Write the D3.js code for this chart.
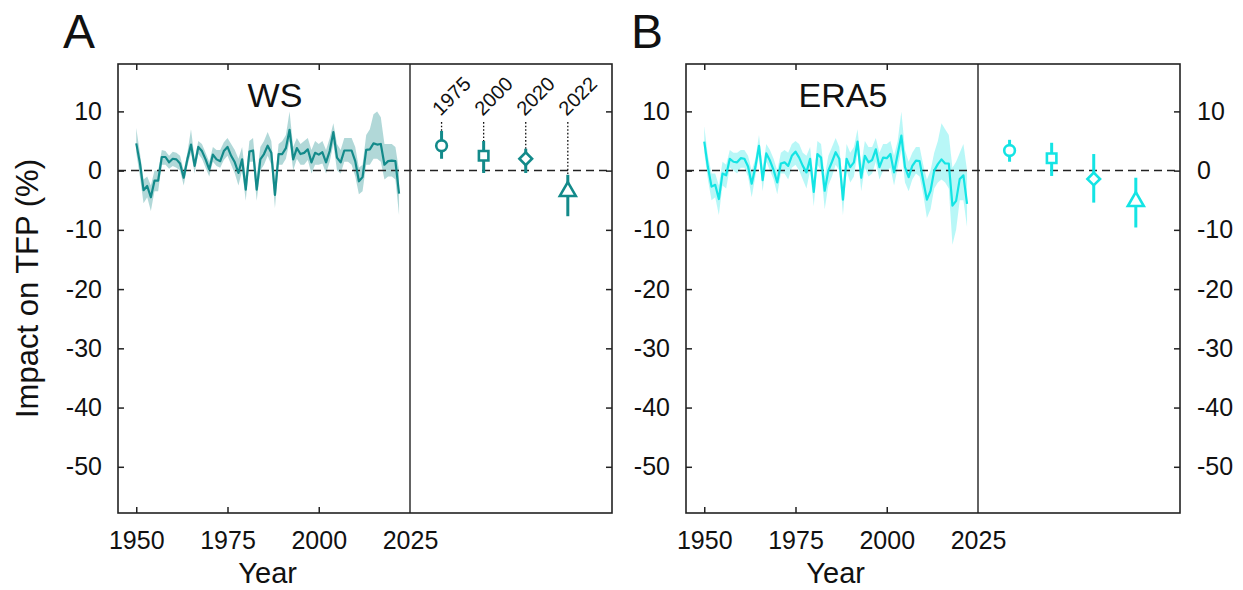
<!DOCTYPE html>
<html>
<head>
<meta charset="utf-8">
<script src="https://cdn.jsdelivr.net/npm/d3@7"></script>
<style>
  body { margin: 0; background: #fff; }
  svg { font-family: "Liberation Sans", Arial, sans-serif; }
</style>
</head>
<body>
<svg id="chart" width="1243" height="590"></svg>
<script>
// years of the annual series
const years = d3.range(1950, 2023);

// WS reanalysis: annual impact on TFP (%) with uncertainty band
const wsMean = [4.6, 1.3, -3.3, -2.6, -4.5, -1.7, -1.7, 2.3, 2.3, 1.4,
    2.0, 1.9, 1.2, -1.2, 1.9, 4.4, 0.8, 4.0, 3.3, 1.9,
    0.2, 2.7, 1.9, 1.6, 3.3, 4.0, 2.5, 1.4, -0.4, 1.9,
    -3.2, 3.2, 3.4, -3.2, 1.9, 2.8, 4.2, 3.0, -4.1, 2.8,
    2.8, 3.8, 6.9, 1.9, 3.8, 2.8, 3.0, 3.6, 1.4, 3.0,
    2.7, 3.1, 1.4, 3.3, 6.5, 2.2, 1.4, 3.4, 3.4, 3.4,
    1.6, -1.8, -1.1, 3.5, 3.6, 4.6, 4.4, 4.5, 1.0, 1.6,
    1.7, 1.6, -3.9];
const wsHi = [7.2, 3.0, -1.5, -1.0, -2.5, 0.0, 0.0, 3.5, 3.3, 2.5,
    3.2, 3.0, 2.5, 0.0, 3.0, 7.0, 2.0, 5.0, 4.5, 3.0,
    1.5, 4.0, 3.5, 3.5, 4.8, 5.5, 4.5, 3.5, 2.0, 4.0,
    -1.0, 5.0, 5.5, -1.0, 4.0, 5.0, 6.5, 5.0, -1.5, 4.5,
    5.0, 6.0, 10.0, 4.0, 5.5, 4.5, 5.0, 5.5, 3.5, 5.0,
    4.5, 5.0, 3.5, 5.5, 8.0, 4.5, 3.5, 5.5, 5.5, 5.5,
    4.0, 0.5, 1.0, 6.0, 7.0, 9.5, 10.0, 9.0, 4.5, 4.5,
    4.5, 4.0, 0.0];
const wsLo = [3.0, -1.0, -5.5, -4.5, -6.8, -3.5, -3.5, 1.0, 1.0, 0.3,
    0.8, 0.5, 0.0, -2.5, 0.8, 3.0, -0.5, 2.8, 2.0, 0.5,
    -1.0, 1.5, 0.8, 0.5, 1.8, 2.5, 1.0, -0.5, -2.5, 0.0,
    -5.1, 1.5, 1.5, -5.1, 0.0, 1.0, 2.5, 1.0, -6.3, 1.0,
    1.0, 2.0, 5.0, 0.0, 2.0, 1.0, 1.0, 1.8, -0.5, 1.0,
    1.0, 1.2, -0.5, 1.5, 4.5, 0.0, -0.5, 1.5, 1.5, 1.0,
    -1.0, -4.0, -3.5, 1.0, 1.0, 2.0, 2.0, 1.5, -1.5, -1.0,
    -1.0, -1.5, -7.5];

// ERA5 reanalysis
const eraMean = [4.9, 0.6, -2.7, -2.4, -4.8, -0.5, -0.8, 2.0, 1.5, 1.4,
    2.1, 2.0, 0.7, -2.2, 0.6, 4.2, -1.6, 2.9, 1.7, 0.1,
    -2.0, 1.2, 1.4, 0.8, 2.5, 3.2, 2.2, 0.8, -0.3, 2.0,
    -3.6, 2.8, 2.2, -3.4, 0.0, 1.5, 3.1, 2.0, -4.9, 2.0,
    0.6, 1.4, 4.9, -1.2, 2.5, 1.4, 1.8, 3.6, 0.6, 2.2,
    2.1, 2.8, -0.3, 2.8, 5.9, 0.6, -1.1, 0.8, 1.7, 1.6,
    -1.7, -4.9, -3.4, 0.0, 1.1, 1.9, 1.2, 1.2, -5.9, -5.1,
    -1.4, -0.8, -5.6];
const eraHi = [7.5, 2.5, -0.5, -0.5, -2.5, 1.5, 1.0, 3.5, 3.0, 3.0,
    3.5, 3.5, 2.5, 0.0, 2.0, 6.0, 0.5, 4.5, 3.5, 2.0,
    0.0, 3.0, 3.5, 3.0, 4.5, 5.0, 4.5, 3.0, 2.5, 4.0,
    -1.5, 5.0, 4.5, -1.0, 2.5, 4.0, 5.5, 4.0, -2.5, 4.5,
    3.0, 4.0, 7.0, 1.0, 5.0, 4.0, 4.0, 5.5, 3.0, 4.5,
    4.5, 5.0, 2.5, 5.0, 10.0, 3.5, 1.5, 3.0, 4.0, 4.0,
    1.0, -1.5, 0.0, 3.0, 5.0, 8.0, 7.0, 6.0, 0.5, 1.5,
    3.0, 4.5, 0.0];
const eraLo = [3.0, -1.5, -5.0, -4.5, -7.5, -2.5, -3.0, 0.5, 0.0, -0.5,
    0.5, 0.5, -1.0, -4.5, -1.0, 2.5, -3.5, 1.5, 0.0, -1.5,
    -4.0, -0.5, -0.5, -1.5, 0.5, 1.0, 0.0, -1.5, -3.0, 0.0,
    -6.0, 1.0, 0.0, -6.5, -2.5, -1.0, 1.0, 0.0, -7.5, 0.0,
    -2.0, -1.0, 3.0, -3.5, 0.5, -1.0, -0.5, 1.5, -1.5, 0.0,
    0.0, 0.5, -2.5, 0.5, 3.5, -2.0, -3.5, -1.5, -0.5, -1.0,
    -4.0, -8.0, -6.5, -3.0, -2.0, -1.5, -2.0, -3.0, -12.5, -10.0,
    -5.0, -5.0, -9.5];

// cumulative impact up to a given year (right part of each panel)
const pointLabels = ["1975", "2000", "2020", "2022"];
const pointShapes = ["circle", "square", "diamond", "triangle"];
const wsPoint = [4.2, 2.5, 2.0, -3.5];
const wsPointLo = [2.0, -0.4, -0.4, -7.7];
const wsPointHi = [6.7, 5.0, 3.7, -0.7];
const eraPoint = [3.4, 2.1, -1.4, -5.2];
const eraPointLo = [1.5, -0.9, -5.4, -9.6];
const eraPointHi = [5.2, 4.7, 2.8, -1.2];

const yTicks = [10, 0, -10, -20, -30, -40, -50];
const xTicks = [1950, 1975, 2000, 2025];

const svg = d3.select('#chart');
const plotTop = 64, plotBottom = 513;
const seriesWidth = 292, pointWidth = 202;

const y = d3.scaleLinear().domain([-57.8, 18]).range([plotBottom, plotTop]);

const panels = [
    { letter: 'A', title: 'WS', left: 118, color: '#138a8a', bandOpacity: 0.33,
      mean: wsMean, lo: wsLo, hi: wsHi,
      pt: wsPoint, ptLo: wsPointLo, ptHi: wsPointHi,
      yLabel: true, rightLabels: false, pointText: true },
    { letter: 'B', title: 'ERA5', left: 686, color: '#14e4e4', bandOpacity: 0.3,
      mean: eraMean, lo: eraLo, hi: eraHi,
      pt: eraPoint, ptLo: eraPointLo, ptHi: eraPointHi,
      yLabel: false, rightLabels: true, pointText: false }
];

const shapeType = {
    circle: d3.symbolCircle,
    square: d3.symbolSquare,
    diamond: d3.symbolSquare,
    triangle: d3.symbolTriangle
};
const shapeSize = { circle: 90, square: 90, diamond: 80, triangle: 110 };
const plain = d => String(d);

panels.forEach(drawPanel);

function styleAxis(g) {
    g.select('.domain').remove();
    g.selectAll('line').attr('stroke', '#222').attr('stroke-width', 1.5);
    g.selectAll('text').attr('fill', '#111').style('font-size', '25px')
        .style('font-family', '"Liberation Sans", Arial, sans-serif');
}

function drawPanel(p) {
    const divider = p.left + seriesWidth;
    const right = divider + pointWidth;
    const x = d3.scaleLinear().domain([1945, 2025]).range([p.left, divider]);
    const px = d3.scaleLinear().domain([0, 4.8]).range([divider, right]);
    const g = svg.append('g');

    // uncertainty band
    const area = d3.area()
        .x((d, i) => x(years[i]))
        .y0((d, i) => y(p.lo[i]))
        .y1((d, i) => y(p.hi[i]));
    g.append('path')
        .datum(p.mean)
        .attr('d', area)
        .attr('fill', p.color)
        .attr('fill-opacity', p.bandOpacity);

    // zero line
    g.append('line')
        .attr('x1', p.left).attr('x2', right)
        .attr('y1', y(0)).attr('y2', y(0))
        .attr('stroke', '#222')
        .attr('stroke-width', 1.5)
        .attr('stroke-dasharray', '8,5');

    const line = d3.line()
        .x((d, i) => x(years[i]))
        .y(d => y(d));
    g.append('path')
        .datum(p.mean)
        .attr('d', line)
        .attr('fill', 'none')
        .attr('stroke', p.color)
        .attr('stroke-width', 2.2)
        .attr('stroke-linejoin', 'round');

    // labels and dotted leaders over the points
    if (p.pointText) {
        pointLabels.forEach((lab, i) => {
            const cx = px(i + 0.75);
            g.append('line')
                .attr('x1', cx).attr('x2', cx)
                .attr('y1', y(8.2)).attr('y2', y(p.ptHi[i]))
                .attr('stroke', '#111')
                .attr('stroke-width', 1.3)
                .attr('stroke-dasharray', '1.6,2');
            g.append('text')
                .attr('transform', `translate(${cx - 1},${y(9.1)}) rotate(-45)`)
                .style('font-size', '20px')
                .attr('fill', '#111')
                .text(lab);
        });
    }

    // error bars and markers
    pointLabels.forEach((lab, i) => {
        const cx = px(i + 0.75);
        g.append('line')
            .attr('x1', cx).attr('x2', cx)
            .attr('y1', y(p.ptLo[i])).attr('y2', y(p.ptHi[i]))
            .attr('stroke', p.color)
            .attr('stroke-width', 3);
        const shape = pointShapes[i];
        g.append('path')
            .attr('d', d3.symbol().type(shapeType[shape]).size(shapeSize[shape])())
            .attr('transform', `translate(${cx},${y(p.pt[i])})` + (shape === 'diamond' ? ' rotate(45)' : ''))
            .attr('fill', '#fff')
            .attr('stroke', p.color)
            .attr('stroke-width', 2.6);
    });

    // frame and divider
    g.append('rect')
        .attr('x', p.left).attr('y', plotTop)
        .attr('width', right - p.left).attr('height', plotBottom - plotTop)
        .attr('fill', 'none')
        .attr('stroke', '#222')
        .attr('stroke-width', 1.6);
    g.append('line')
        .attr('x1', x(2025)).attr('x2', x(2025))
        .attr('y1', plotTop).attr('y2', plotBottom)
        .attr('stroke', '#222')
        .attr('stroke-width', 1.4);

    // axes, ticks pointing inward
    g.append('g')
        .attr('transform', `translate(${p.left},0)`)
        .call(d3.axisLeft(y).tickValues(yTicks).tickSize(-6).tickPadding(16).tickFormat(plain))
        .call(styleAxis);
    g.append('g')
        .attr('transform', `translate(${right},0)`)
        .call(d3.axisRight(y).tickValues(yTicks).tickSize(-6).tickPadding(17)
            .tickFormat(p.rightLabels ? plain : ''))
        .call(styleAxis);
    const bx = g.append('g')
        .attr('transform', `translate(0,${plotBottom})`)
        .call(d3.axisBottom(x).tickValues(xTicks).tickSize(-6).tickPadding(18).tickFormat(plain))
        .call(styleAxis);
    bx.selectAll('.tick').filter(d => d === 2025).select('line').remove();
    g.append('g')
        .attr('transform', `translate(0,${plotTop})`)
        .call(d3.axisTop(x).tickValues(xTicks.slice(0, 3)).tickSize(-6).tickFormat(''))
        .call(styleAxis);

    // texts
    g.append('text')
        .attr('x', x(1988)).attr('y', 107)
        .attr('text-anchor', 'middle')
        .style('font-size', '34px')
        .attr('fill', '#111')
        .text(p.title);
    g.append('text')
        .attr('x', p.left - 55).attr('y', 48)
        .style('font-size', '48px')
        .attr('fill', '#111')
        .text(p.letter);
    g.append('text')
        .attr('x', x(1986)).attr('y', 583)
        .attr('text-anchor', 'middle')
        .style('font-size', '29px')
        .attr('fill', '#111')
        .text('Year');
    if (p.yLabel) {
        g.append('text')
            .attr('transform', `translate(38,${(plotTop + plotBottom) / 2}) rotate(-90)`)
            .attr('text-anchor', 'middle')
            .style('font-size', '31px')
            .attr('fill', '#111')
            .text('Impact on TFP (%)');
    }
}
</script>
</body>
</html>
